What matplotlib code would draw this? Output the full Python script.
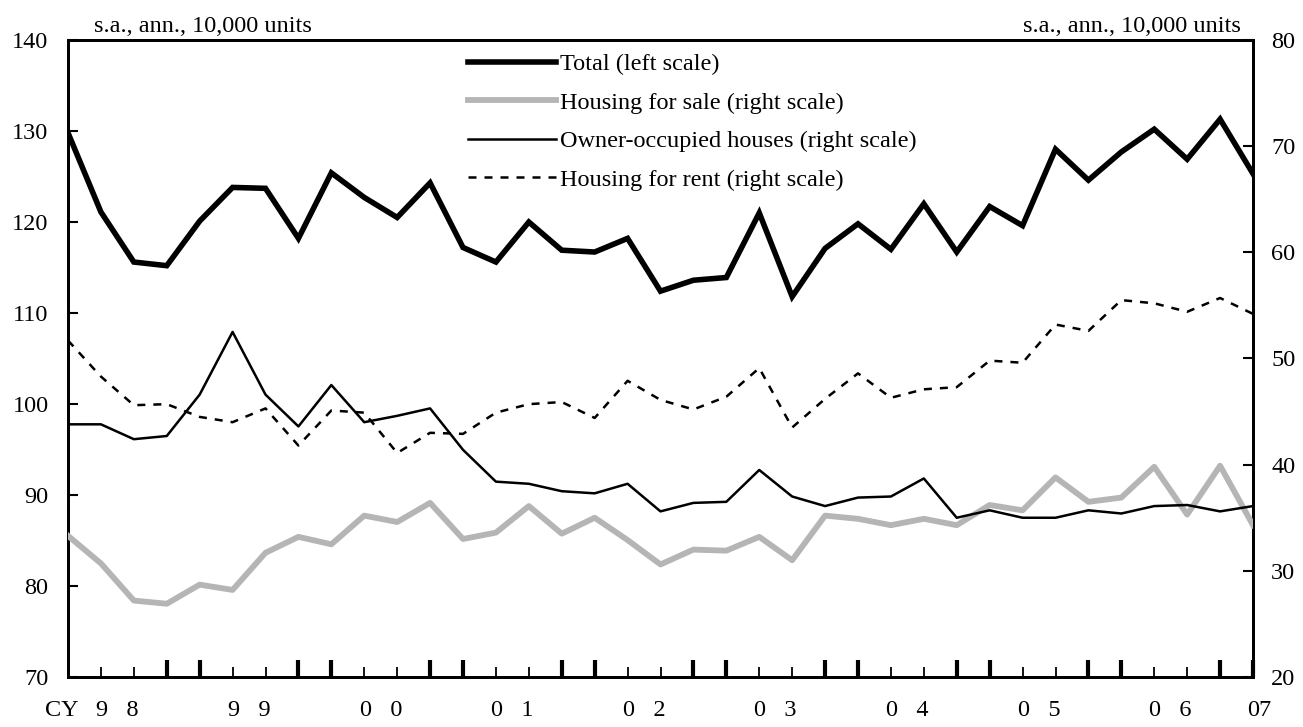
import matplotlib
matplotlib.use("Agg")
import matplotlib.pyplot as plt
from matplotlib.ticker import FixedLocator, NullFormatter
import numpy as np

# ---- data (quarterly, 1998Q1 .. 2007Q1) ----
total = [129.8, 121.1, 115.6, 115.2, 120.1, 123.8, 123.7, 118.2, 125.4, 122.7,
         120.5, 124.3, 117.2, 115.6, 120.0, 116.9, 116.7, 118.2, 112.4, 113.6,
         113.9, 121.0, 111.8, 117.1, 119.8, 117.0, 122.0, 116.7, 121.7, 119.6,
         128.0, 124.6, 127.7, 130.2, 126.9, 131.3, 125.3]
sale = [33.3, 30.7, 27.2, 26.9, 28.7, 28.2, 31.7, 33.2, 32.5, 35.2,
        34.6, 36.4, 33.0, 33.6, 36.1, 33.5, 35.0, 32.9, 30.6, 32.0,
        31.9, 33.2, 31.0, 35.2, 34.9, 34.3, 34.9, 34.3, 36.2, 35.7,
        38.8, 36.5, 36.9, 39.8, 35.3, 39.9, 34.3]
owner = [43.8, 43.8, 42.4, 42.7, 46.6, 52.5, 46.6, 43.6, 47.5, 44.0,
         44.6, 45.3, 41.4, 38.4, 38.2, 37.5, 37.3, 38.2, 35.6, 36.4,
         36.5, 39.5, 37.0, 36.1, 36.9, 37.0, 38.7, 35.0, 35.7, 35.0,
         35.0, 35.7, 35.4, 36.1, 36.2, 35.6, 36.1]
rent = [51.7, 48.3, 45.6, 45.7, 44.5, 44.0, 45.3, 41.8, 45.1, 44.9,
        41.1, 43.0, 42.9, 44.9, 45.7, 45.9, 44.4, 47.9, 46.1, 45.2,
        46.4, 49.1, 43.5, 46.2, 48.6, 46.3, 47.1, 47.3, 49.8, 49.6,
        53.2, 52.6, 55.5, 55.2, 54.4, 55.7, 54.2]
year_labels = ["9   8", "9   9", "0   0", "0   1", "0   2", "0   3", "0   4", "0   5", "0   6"]
last_label = "07"
left_ticks = [70, 80, 90, 100, 110, 120, 130, 140]
right_ticks = [20, 30, 40, 50, 60, 70, 80]
labels = ["Total (left scale)", "Housing for sale (right scale)",
          "Owner-occupied houses (right scale)", "Housing for rent (right scale)"]
unit_text = "s.a., ann., 10,000 units"

plt.rcParams['font.family'] = ['Liberation Serif', 'DejaVu Serif']
FS = 17.5

x = np.arange(len(total))

fig = plt.figure(figsize=(13.03, 7.27), dpi=100)
ax = fig.add_axes([68/1303, 1-677/727, (1253-68)/1303, (677-40)/727])
ax2 = ax.twinx()

l1, = ax.plot(x, total, color='black', lw=4.0, solid_joinstyle='miter', zorder=5)
l2, = ax2.plot(x, sale, color='#b5b5b5', lw=4.2, zorder=3)
l3, = ax2.plot(x, owner, color='black', lw=1.8, zorder=4)
l4, = ax2.plot(x, rent, color='black', lw=1.8, dashes=(3.2, 3.2), zorder=4)

ax.set_xlim(0, len(total) - 1)
ax.set_ylim(70, 140)
ax2.set_ylim(20, 80)

# x ticks: thick pairs and thin pairs
thick = [i for i in range(1, len(total)) if i % 4 in (3, 0)]
thin = [i for i in range(1, len(total)) if i % 4 in (1, 2)]
ax.xaxis.set_major_locator(FixedLocator(thick))
ax.xaxis.set_minor_locator(FixedLocator(thin))
ax.xaxis.set_major_formatter(NullFormatter())
ax.xaxis.set_minor_formatter(NullFormatter())
ax.tick_params(axis='x', which='major', direction='in', length=12, width=3.0,
               top=False, bottom=True)
ax.tick_params(axis='x', which='minor', direction='in', length=7, width=1.3,
               top=False, bottom=True)

ax.set_yticks(left_ticks)
ax.tick_params(axis='y', direction='in', length=7, width=1.5, labelsize=FS, pad=14)
ax2.set_yticks(right_ticks)
ax2.tick_params(axis='y', direction='in', length=7, width=1.5, labelsize=FS, pad=13)

for a in (ax, ax2):
    for s in a.spines.values():
        s.set_linewidth(2.0)

# year labels
xt = ax.get_xaxis_transform()
for k, lab in enumerate(year_labels):
    ax.text(4 * k + 1.5, -0.052, lab, transform=xt, ha='center', va='center', fontsize=FS)
ax.text(len(total) - 1 + 0.2, -0.052, last_label, transform=xt, ha='center', va='center', fontsize=FS)
ax.text(-0.2, -0.052, "CY", transform=xt, ha='center', va='center', fontsize=FS)

# unit labels
ax.text(0.022, 1.004, unit_text, transform=ax.transAxes, ha='left', va='bottom', fontsize=FS)
ax.text(0.99, 1.004, unit_text, transform=ax.transAxes, ha='right', va='bottom', fontsize=FS)

leg = ax2.legend([l1, l2, l3, l4], labels, loc='upper left',
                 bbox_to_anchor=((468-68)/1185, 1-(53-40)/637),
                 frameon=False, fontsize=FS, handlelength=3.6, handletextpad=0.2,
                 labelspacing=0.68, borderpad=0, borderaxespad=0)

fig.savefig("out.png", dpi=100)
